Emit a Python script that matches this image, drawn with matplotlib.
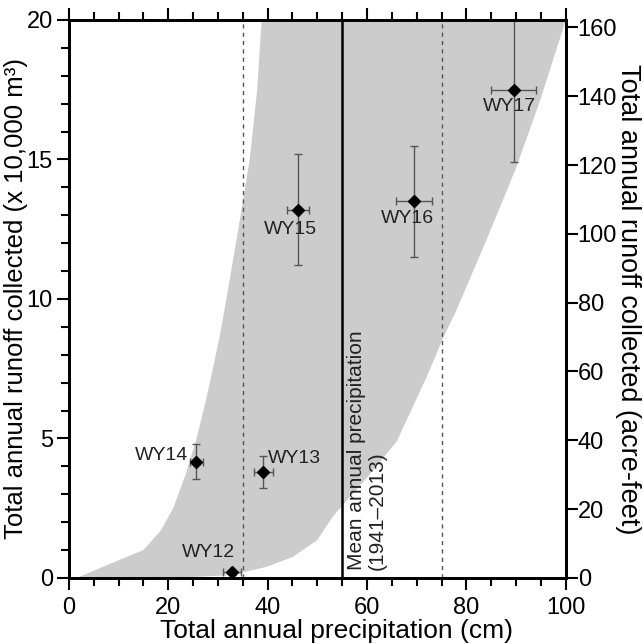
import numpy as np
import matplotlib.pyplot as plt
from matplotlib.ticker import MultipleLocator

plt.rcParams['font.family'] = ['Liberation Sans', 'DejaVu Sans']

# water years: precipitation (cm) vs runoff (x 10,000 m3)
years = ['WY12', 'WY13', 'WY14', 'WY15', 'WY16', 'WY17']
precip = [32.8, 39.1, 25.6, 46.1, 69.4, 89.5]
precip_err = [1.8, 1.9, 1.3, 2.3, 3.6, 4.5]
runoff = [0.2, 3.8, 4.16, 13.2, 13.5, 17.5]
runoff_lo = [0.1, 0.57, 0.63, 2.0, 2.0, 2.6]
runoff_hi = [0.1, 0.57, 0.63, 2.0, 2.0, 3.0]

# label positions (data units)
lab_x = [28.0, 40.1, 24.0, 44.5, 68.2, 88.7]
lab_y = [0.9, 4.3, 4.4, 12.5, 12.9, 16.9]
lab_ha = ['center', 'left', 'right', 'center', 'center', 'center']

# envelope of expected runoff
upper_x = [1.6, 8.2, 15.0, 18.5, 21.0, 23.5, 25.7, 27.5, 29.0, 30.5, 31.7, 34.1,
           36.4, 37.9, 38.8, 100.0]
upper_y = [0.0, 0.5, 1.0, 1.7, 2.5, 3.7, 5.0, 6.3, 7.5, 8.8, 10.0, 12.5,
           15.0, 17.5, 20.0, 20.0]
lower_x = [1.6, 20.0, 33.0, 35.0, 39.8, 45.0, 50.0, 53.1, 60.0, 66.0, 68.6, 72.0,
           75.3, 78.0, 84.0, 90.0, 94.8, 100.0]
lower_y = [0.0, 0.0, 0.1, 0.2, 0.4, 0.75, 1.36, 2.2, 3.6, 4.9, 5.9, 7.2,
           8.6, 9.6, 12.1, 14.7, 17.1, 20.0]

mean_precip = 55
std_lines = [35, 75]
M3_PER_ACFT = 1233.48

fig = plt.figure(figsize=(6.43, 6.44), dpi=100)
ax = fig.add_axes([0.107, 0.1025, 0.773, 0.8665])

poly_x = upper_x + lower_x[::-1]
poly_y = upper_y + lower_y[::-1]
ax.fill(poly_x, poly_y, color='#cccccc', lw=0, zorder=1)

for xv in std_lines:
    ax.axvline(xv, color='#555555', ls=(0, (3, 3)), lw=1.0, zorder=2)
ax.axvline(mean_precip, color='black', lw=1.8, zorder=2)
ax.text(mean_precip + 0.9, 0.3, 'Mean annual precipitation\n(1941\u20132013)', rotation=90,
        ha='left', va='bottom', fontsize=15, linespacing=1.15, color='#222222', zorder=3)

ax.errorbar(precip, runoff, xerr=precip_err, yerr=[runoff_lo, runoff_hi], fmt='D',
            color='black', ms=6, ecolor='#555555', elinewidth=1.0, capsize=3,
            capthick=1.0, zorder=4)
for i, name in enumerate(years):
    ax.text(lab_x[i], lab_y[i], name, ha=lab_ha[i], va='center', fontsize=14,
            color='#222222', zorder=5)

ax.set_xlim(0, 100)
ax.set_ylim(0, 20)
ax.xaxis.set_major_locator(MultipleLocator(20))
ax.xaxis.set_minor_locator(MultipleLocator(5))
ax.yaxis.set_major_locator(MultipleLocator(5))
ax.yaxis.set_minor_locator(MultipleLocator(1))
ax.tick_params(which='both', direction='out', width=1.5, top=True, labelsize=17, pad=3)
ax.tick_params(axis='x', which='major', pad=5)
ax.tick_params(which='major', length=8.5)
ax.tick_params(which='minor', length=6)
for s in ax.spines.values():
    s.set_linewidth(2)
ax.set_xlabel('Total annual precipitation (cm)', fontsize=19)
ax.xaxis.set_label_coords(0.539, -0.074)
ax.set_ylabel('Total annual runoff collected (x 10,000 m\u00b3)', fontsize=18.5)
ax.yaxis.set_label_coords(-0.082, 0.5)

ax2 = ax.twinx()
ax2.set_ylim(0, 20e4 / M3_PER_ACFT)
ax2.yaxis.set_major_locator(MultipleLocator(20))
ax2.tick_params(direction='out', width=1.5, length=8.5, labelsize=17, pad=0)
for s in ax2.spines.values():
    s.set_linewidth(2)
ax2.set_ylabel('Total annual runoff collected (acre-feet)', fontsize=19.5, rotation=270,
               labelpad=17)

fig.savefig('out.png', dpi=100)
